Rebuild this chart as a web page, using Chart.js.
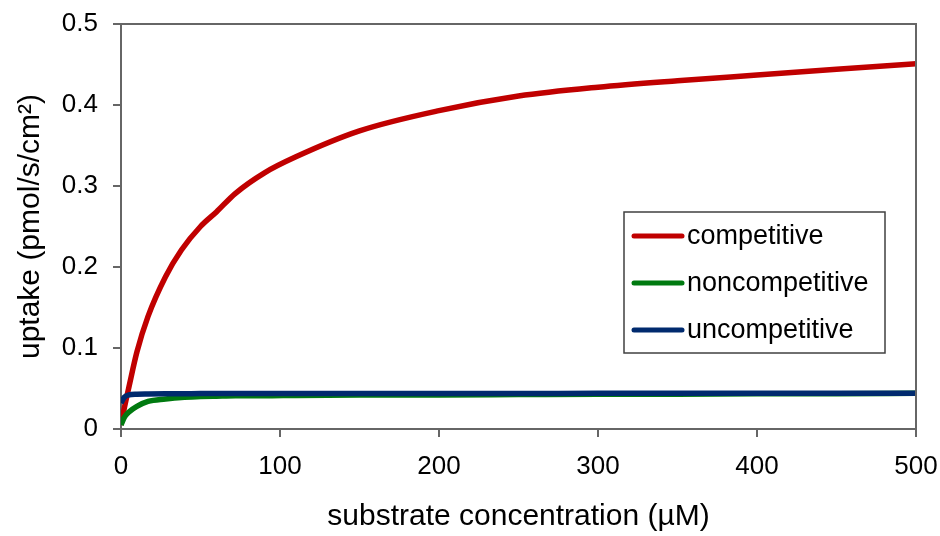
<!DOCTYPE html>
<html>
<head>
<meta charset="utf-8">
<script src="https://cdn.jsdelivr.net/npm/chart.js@4/dist/chart.umd.min.js"></script>
<style>
  html, body { margin: 0; padding: 0; background: #fff; }
  #wrap { width: 940px; height: 536px; }
</style>
</head>
<body>
<div id="wrap"><canvas id="chart" width="940" height="536"></canvas></div>
<script>
// data
const substrate = [0, 2, 5, 10, 17, 28, 38, 50, 60, 72, 90, 110, 150, 200, 250, 300, 350, 400, 450, 500];
const competitive = [0.005, 0.025, 0.052, 0.095, 0.139, 0.188, 0.221, 0.25, 0.268, 0.291, 0.316, 0.336, 0.368, 0.393, 0.411, 0.422, 0.43, 0.437, 0.444, 0.451];
const noncompetitive = [0.005, 0.014, 0.021, 0.028, 0.034, 0.037, 0.039, 0.04, 0.0405, 0.041, 0.041, 0.0415, 0.042, 0.042, 0.0425, 0.043, 0.043, 0.0435, 0.0435, 0.044];
const uncompetitive = [0.032, 0.039, 0.042, 0.043, 0.0433, 0.0435, 0.0435, 0.0437, 0.0437, 0.0437, 0.0438, 0.0438, 0.0438, 0.0439, 0.0439, 0.044, 0.044, 0.044, 0.044, 0.044];
const seriesNames = ['competitive', 'noncompetitive', 'uncompetitive'];
const xTicks = [0, 100, 200, 300, 400, 500];
const yTicks = [0, 0.1, 0.2, 0.3, 0.4, 0.5];

const FONT = "'Liberation Sans', Arial, sans-serif";
const AXIS = '#666666';

function pts(ys) {
    return substrate.map((x, i) => ({ x: x, y: ys[i] }));
}

function line(label, ys, color, order) {
    return {
        label: label,
        data: pts(ys),
        borderColor: color,
        backgroundColor: color,
        borderWidth: 5.5,
        pointRadius: 0,
        cubicInterpolationMode: 'monotone',
        fill: false,
        order: order
    };
}

// box around plot + legend inside it
const boxAndLegend = {
    id: 'boxAndLegend',
    afterDatasetsDraw(chart) {
        const ctx = chart.ctx;
        const a = chart.chartArea;
        ctx.save();
        ctx.strokeStyle = AXIS;
        ctx.lineWidth = 2;
        ctx.beginPath();
        ctx.moveTo(a.left, a.top);
        ctx.lineTo(a.right, a.top);
        ctx.lineTo(a.right, a.bottom);
        ctx.stroke();

        // legend
        const lx = a.right - 292, ly = a.top + 188, lw = 261, lh = 141;
        ctx.fillStyle = '#fff';
        ctx.fillRect(lx, ly, lw, lh);
        ctx.strokeStyle = '#404040';
        ctx.lineWidth = 1.5;
        ctx.strokeRect(lx, ly, lw, lh);
        ctx.font = '27px ' + FONT;
        ctx.textBaseline = 'middle';
        ctx.textAlign = 'left';
        chart.data.datasets.forEach((ds, i) => {
            const yy = ly + 24 + i * 47;
            ctx.strokeStyle = ds.borderColor;
            ctx.lineWidth = 5;
            ctx.lineCap = 'round';
            ctx.beginPath();
            ctx.moveTo(lx + 10, yy);
            ctx.lineTo(lx + 58, yy);
            ctx.stroke();
            ctx.fillStyle = '#000';
            ctx.fillText(ds.label, lx + 63, yy + 1);
        });
        ctx.restore();
    }
};

new Chart(document.getElementById('chart'), {
    type: 'line',
    data: {
        datasets: [
            line(seriesNames[0], competitive, '#C00000', 2),
            line(seriesNames[1], noncompetitive, '#007A10', 1),
            line(seriesNames[2], uncompetitive, '#002A6E', 0)
        ]
    },
    options: {
        responsive: false,
        animation: false,
        layout: { padding: { top: 24, right: 24, left: 0, bottom: 0 } },
        plugins: {
            legend: { display: false },
            tooltip: { enabled: false }
        },
        scales: {
            x: {
                type: 'linear',
                min: 0,
                max: 500,
                afterBuildTicks: s => { s.ticks = xTicks.map(v => ({ value: v })); },
                afterFit: s => { s.height = 107; s.paddingLeft = 0; s.paddingRight = 0; },
                grid: { drawOnChartArea: false, drawTicks: true, tickLength: 8, color: AXIS, lineWidth: 2 },
                border: { color: AXIS, width: 2 },
                ticks: { color: '#000', font: { family: FONT, size: 26 }, padding: 14, maxRotation: 0 },
                title: {
                    display: true,
                    text: 'substrate concentration (µM)',
                    color: '#000',
                    font: { family: FONT, size: 30 },
                    padding: { top: 0, bottom: 1 }
                }
            },
            y: {
                min: 0,
                max: 0.5,
                afterBuildTicks: s => { s.ticks = yTicks.map(v => ({ value: v })); },
                afterFit: s => { s.width = 121; s.paddingTop = 0; s.paddingBottom = 0; },
                grid: { drawOnChartArea: false, drawTicks: true, tickLength: 8, color: AXIS, lineWidth: 2 },
                border: { color: AXIS, width: 2 },
                ticks: {
                    color: '#000',
                    font: { family: FONT, size: 26 },
                    padding: 15,
                    callback: v => String(+v.toFixed(1))
                },
                title: {
                    display: true,
                    text: 'uptake (pmol/s/cm²)',
                    color: '#000',
                    font: { family: FONT, size: 30 },
                    padding: { top: 13, bottom: 0 }
                }
            }
        }
    },
    plugins: [boxAndLegend]
});
</script>
</body>
</html>
